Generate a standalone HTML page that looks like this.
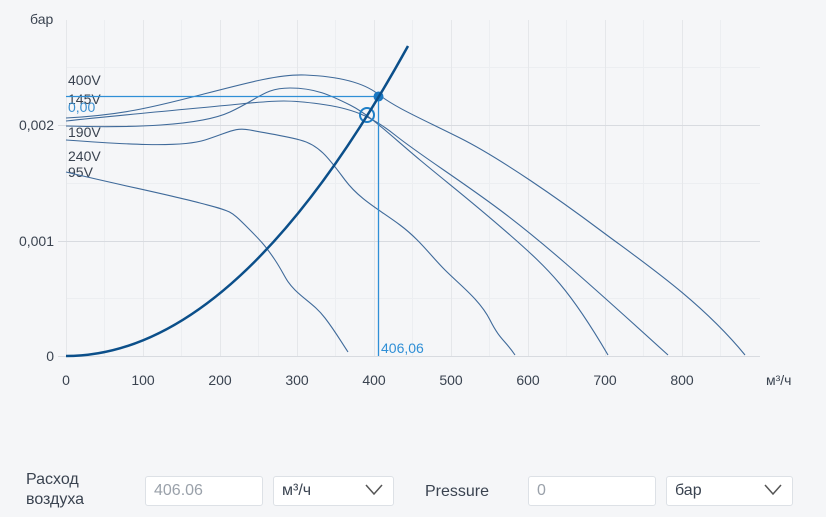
<!DOCTYPE html>
<html><head><meta charset="utf-8"><style>
body{margin:0;width:826px;height:517px;background:#f5f6f8;font-family:"Liberation Sans",sans-serif;overflow:hidden;position:relative}
.lbl{position:absolute;color:#3a4350;font-size:16px}
.box{position:absolute;top:476px;height:30px;background:#fff;border:1px solid #dde1e6;border-radius:3px;box-sizing:border-box;font-size:16px;line-height:28px;padding-left:8px;color:#3a4350}
.chev{position:absolute;right:10px;top:7px}
</style></head><body>
<svg width="826" height="460" style="position:absolute;left:0;top:0" font-family="Liberation Sans, sans-serif">
<g stroke="#eceef1" stroke-width="1">
<line x1="104.5" y1="20" x2="104.5" y2="356"/><line x1="181.5" y1="20" x2="181.5" y2="356"/><line x1="258.5" y1="20" x2="258.5" y2="356"/><line x1="335.5" y1="20" x2="335.5" y2="356"/><line x1="412.5" y1="20" x2="412.5" y2="356"/><line x1="489.5" y1="20" x2="489.5" y2="356"/><line x1="566.5" y1="20" x2="566.5" y2="356"/><line x1="643.5" y1="20" x2="643.5" y2="356"/><line x1="720.5" y1="20" x2="720.5" y2="356"/>
<line x1="66" y1="298.5" x2="760" y2="298.5"/><line x1="66" y1="183.5" x2="760" y2="183.5"/><line x1="66" y1="67.5" x2="760" y2="67.5"/>
</g>
<g stroke="#e5e7ea" stroke-width="1">
<line x1="66.5" y1="20" x2="66.5" y2="356"/><line x1="143.5" y1="20" x2="143.5" y2="356"/><line x1="220.5" y1="20" x2="220.5" y2="356"/><line x1="297.5" y1="20" x2="297.5" y2="356"/><line x1="374.5" y1="20" x2="374.5" y2="356"/><line x1="451.5" y1="20" x2="451.5" y2="356"/><line x1="528.5" y1="20" x2="528.5" y2="356"/><line x1="605.5" y1="20" x2="605.5" y2="356"/><line x1="682.5" y1="20" x2="682.5" y2="356"/>
</g>
<g stroke="#d8dbe0" stroke-width="1">
<line x1="58" y1="125.5" x2="760" y2="125.5"/><line x1="58" y1="241.5" x2="760" y2="241.5"/><line x1="58" y1="356.5" x2="760" y2="356.5"/>
</g>
<g fill="#3a4350" font-size="14">
<text x="30" y="24">бар</text>
<text x="54" y="130" text-anchor="end">0,002</text>
<text x="54" y="246" text-anchor="end">0,001</text>
<text x="54" y="361" text-anchor="end">0</text>
<g text-anchor="middle"><text x="66" y="385">0</text><text x="143" y="385">100</text><text x="220" y="385">200</text><text x="297" y="385">300</text><text x="374" y="385">400</text><text x="451" y="385">500</text><text x="528" y="385">600</text><text x="605" y="385">700</text><text x="682" y="385">800</text></g>
<text x="766" y="385">м³/ч</text>
<text x="68" y="85">400V</text><text x="68" y="104">145V</text><text x="68" y="137">190V</text><text x="68" y="161">240V</text><text x="68" y="177">95V</text>
<text x="68" y="112" fill="#3a8fd0">0,00</text>
</g>
<g fill="none" stroke="#3f6a9a" stroke-width="1.1">
<path d="M66,118 C120,115 150,108 200,95 S280,74 305,75 S360,80 378,94 S420,118 460,138 S560,200 600,230 S700,300 745,355"/>
<path d="M66,121 C120,115 200,108 240,104 S290,100 320,104 S370,115 395,135 S460,180 500,210 S580,275 668,355"/>
<path d="M66,126 C130,128 200,126 230,112 S265,88 290,88 S330,95 350,105 S390,135 420,160 S470,200 510,235 S570,290 608,355"/>
<path d="M66,140 C120,144 180,148 205,140 S235,127 250,130 S280,135 300,140 S330,160 345,180 S380,210 400,225 S430,255 445,270 S480,300 490,320 S505,340 515,355"/>
<path d="M66,172 C120,185 170,195 200,203 S230,210 245,225 S265,245 275,260 S285,280 295,290 S315,305 325,318 S340,340 348,352"/>
</g>
<g stroke="#2f8fd6" stroke-width="1.3" fill="none">
<line x1="66" y1="96.5" x2="378" y2="96.5"/><line x1="378.5" y1="96" x2="378.5" y2="356"/>
<circle cx="367" cy="115" r="7" stroke="#1f7fc7" stroke-width="2"/>
</g>
<circle cx="378.5" cy="96.5" r="5" fill="#1a78c2"/>
<text x="381" y="353" fill="#2f8fd6" font-size="14">406,06</text>
<path d="M66,356 Q237,356 408,46" fill="none" stroke="#0b4f8a" stroke-width="2.5"/>
</svg>
<div class="lbl" style="left:26px;top:470px;line-height:20px">Расход<br>воздуха</div>
<div class="box" style="left:145px;width:118px;color:#9aa1aa">406.06</div>
<div class="box" style="left:273px;width:121px">м³/ч<svg class="chev" width="18" height="12"><path d="M1,1 L9,10 L17,1" fill="none" stroke="#555" stroke-width="1.5"/></svg></div>
<div class="lbl" style="left:425px;top:483px">Pressure</div>
<div class="box" style="left:528px;width:128px;color:#9aa1aa">0</div>
<div class="box" style="left:666px;width:127px">бар<svg class="chev" width="18" height="12"><path d="M1,1 L9,10 L17,1" fill="none" stroke="#555" stroke-width="1.5"/></svg></div>
</body></html>
